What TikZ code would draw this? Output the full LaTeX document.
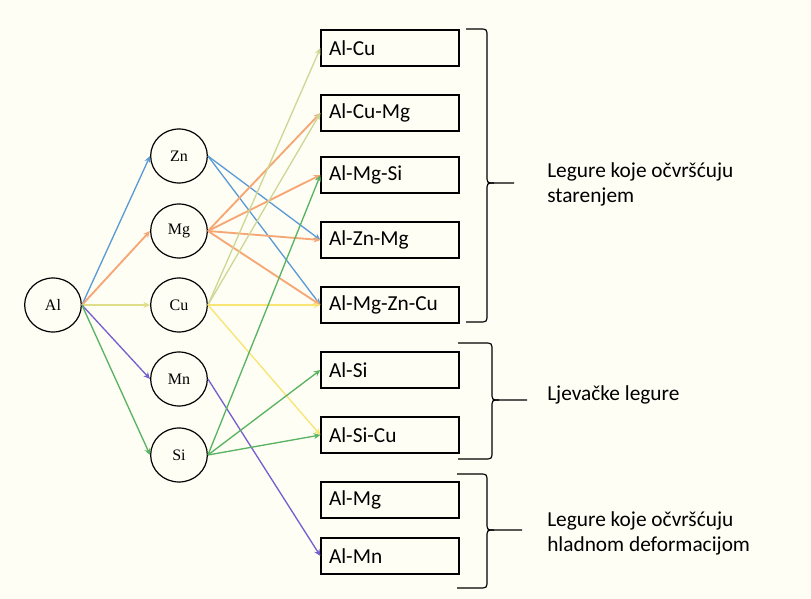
\documentclass[tikz,border=0pt]{standalone}
\usepackage{fontspec}
\setmainfont{Carlito}
\newfontfamily\elemfont{Liberation Serif}
\usetikzlibrary{arrows.meta,shapes.geometric}
\definecolor{paper}{RGB}{255,254,245}
\definecolor{znblue}{RGB}{91,155,213}
\definecolor{mgorange}{RGB}{245,168,118}
\definecolor{cuyellow}{RGB}{250,228,115}
\definecolor{cuolive}{RGB}{205,216,150}
\definecolor{mnpurple}{RGB}{118,96,208}
\definecolor{sigreen}{RGB}{88,180,98}

\begin{document}
\begin{tikzpicture}[x=0.75pt,y=-0.75pt,
  elem/.style={draw,ellipse,line width=0.9pt,minimum width=42.5pt,minimum height=40.5pt,inner sep=0pt,font=\elemfont\fontsize{12}{13}\selectfont},
  alloy/.style={draw,line width=0.9pt,minimum height=27pt,text width=91.5pt,inner xsep=6pt,align=left,font=\fontsize{16}{18}\selectfont},
  group/.style={anchor=west,align=left,inner sep=0pt,font=\fontsize{16}{18.75}\selectfont},
  link/.style={line width=1pt,-{Stealth[length=5pt,width=4.5pt]}},
  mglink/.style={link,mgorange,line width=1.4pt},
  brace/.style={line width=0.9pt}]
\fill[paper] (0,0) rectangle (811,599);

\node[elem] (Al) at (53,305) {Al};
\node[elem] (Zn) at (179,156) {Zn};
\node[elem] (Mg) at (179,231) {Mg};
\node[elem] (Cu) at (179,305) {Cu};
\node[elem] (Mn) at (179,379) {Mn};
\node[elem] (Si) at (179,455) {Si};

\node[alloy] (AlCu) at (390,48) {Al-Cu};
\node[alloy] (AlCuMg) at (390,113) {Al-Cu-Mg};
\node[alloy] (AlMgSi) at (390,175) {Al-Mg-Si};
\node[alloy] (AlZnMg) at (390,240) {Al-Zn-Mg};
\node[alloy] (AlMgZnCu) at (390,305) {Al-Mg-Zn-Cu};
\node[alloy] (AlSi) at (390,370) {Al-Si};
\node[alloy] (AlSiCu) at (390,435) {Al-Si-Cu};
\node[alloy] (AlMg) at (390,500) {Al-Mg};
\node[alloy] (AlMn) at (390,556) {Al-Mn};

\draw[link,znblue] (Al.east) -- (Zn.west);
\draw[mglink] (Al.east) -- (Mg.west);
\draw[link,cuolive!60!cuyellow] (Al.east) -- (Cu.west);
\draw[link,mnpurple] (Al.east) -- (Mn.west);
\draw[link,sigreen] (Al.east) -- (Si.west);

\foreach \t in {AlZnMg,AlMgZnCu}
  \draw[link,znblue] (Zn.east) -- (\t.west);
\foreach \t in {AlCuMg,AlMgSi,AlZnMg,AlMgZnCu}
  \draw[mglink] (Mg.east) -- (\t.west);
\foreach \t in {AlCu,AlCuMg}
  \draw[link,cuolive] (Cu.east) -- (\t.west);
\foreach \t in {AlMgZnCu,AlSiCu}
  \draw[link,cuyellow] (Cu.east) -- (\t.west);
\draw[link,mnpurple] (Mn.east) -- (AlMn.west);
\foreach \t in {AlMgSi,AlSi,AlSiCu}
  \draw[link,sigreen] (Si.east) -- (\t.west);

\draw[brace] (466,29) -- (479,29) .. controls (487,29) .. (487,37) -- (487,175)
  .. controls (487,183) .. (494,183) -- (514,183);
\draw[brace] (466,322) -- (479,322) .. controls (487,322) .. (487,314) -- (487,191)
  .. controls (487,183) .. (494,183);
\draw[brace] (458,343) -- (484,343) .. controls (492,343) .. (492,351) -- (492,392)
  .. controls (492,400) .. (499,400) -- (527,400);
\draw[brace] (458,459) -- (484,459) .. controls (492,459) .. (492,451) -- (492,408)
  .. controls (492,400) .. (499,400);
\draw[brace] (457,474) -- (479,474) .. controls (487,474) .. (487,482) -- (487,522)
  .. controls (487,530) .. (494,530) -- (522,530);
\draw[brace] (457,588) -- (479,588) .. controls (487,588) .. (487,580) -- (487,538)
  .. controls (487,530) .. (494,530);

\node[group] (aging) at (547,184.5) {Legure koje očvršćuju\\starenjem};
\node[group] (casting) at (547,395) {Ljevačke legure};
\node[group] (cold) at (547,533) {Legure koje očvršćuju\\hladnom deformacijom};
\end{tikzpicture}
\end{document}
